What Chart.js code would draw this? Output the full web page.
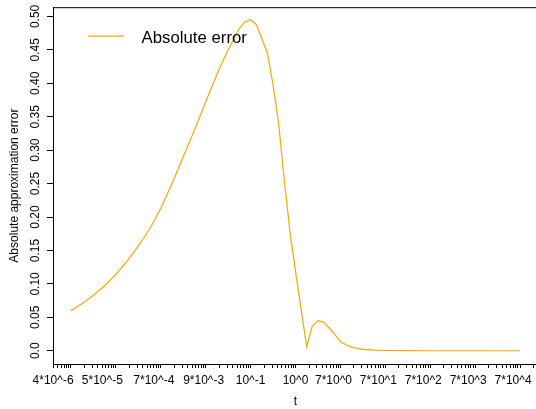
<!DOCTYPE html>
<html>
<head>
<meta charset="utf-8">
<script src="https://cdn.jsdelivr.net/npm/chart.js@4.4.1/dist/chart.umd.min.js"></script>
<style>
  html, body { margin: 0; padding: 0; background: #fff; overflow: hidden; }
  canvas { display: block; }
</style>
</head>
<body>
<canvas id="errChart" width="540" height="409"></canvas>
<script>
// ============================================
// Data
// ============================================
// log10(t) of each sample, and the absolute error there
const LOG_T = [
  -5, -4.75, -4.5, -4.25, -4, -3.75, -3.5, -3.375, -3.25, -3.125, -3, -2.875,
  -2.75, -2.625, -2.5, -2.375, -2.25, -2.125, -2,
  -1.875, -1.75, -1.625, -1.5, -1.375, -1.25, -1.125, -1, -0.875, -0.75, -0.625,
  -0.5, -0.375, -0.25, -0.125, 0, 0.125, 0.25, 0.375, 0.5, 0.625, 0.75, 0.875,
  1, 1.125, 1.25, 1.375, 1.5, 1.75, 2, 2.5, 3, 3.5, 4, 4.5, 5,
]
const ABS_ERR = [
  0.0597, 0.0705, 0.0829, 0.0973, 0.1143, 0.134, 0.157, 0.169, 0.182, 0.197, 0.213, 0.231,
  0.25, 0.27, 0.29, 0.31, 0.33, 0.351, 0.372,
  0.393, 0.413, 0.432, 0.45, 0.466, 0.482, 0.492, 0.495, 0.488, 0.467, 0.445,
  0.398, 0.34, 0.255, 0.179, 0.119, 0.062, 0.006, 0.037, 0.045, 0.0425, 0.034, 0.0245,
  0.0135, 0.009, 0.0055, 0.0035, 0.002, 0.0009, 0.0004, 0.0001, 0, 0, 0, 0, 0,
]

const X_TICKS = [4e-6, 5e-5, 7e-4, 9e-3, 1e-1, 1, 7, 70, 700, 7000, 70000]
const X_TICK_LABELS = [
  "4*10^-6", "5*10^-5", "7*10^-4", "9*10^-3", "10^-1", "10^0",
  "7*10^0", "7*10^1", "7*10^2", "7*10^3", "7*10^4",
]
const Y_TICKS = [0, 0.05, 0.1, 0.15, 0.2, 0.25, 0.3, 0.35, 0.4, 0.45, 0.5]
const Y_TICK_LABELS = ["0.0", "0.05", "0.10", "0.15", "0.20", "0.25", "0.30", "0.35", "0.40", "0.45", "0.50"]

const SERIES_LABEL = "Absolute error"
const X_TITLE = "t"
const Y_TITLE = "Absolute approximation error"

// ============================================
// Look
// ============================================
const FONT = "'Liberation Sans', Arial, Helvetica, sans-serif"
const ORANGE = "#FFA500"

// R pads each axis range by 4%
const X_MIN = Math.pow(10, -5.4)
const X_MAX = Math.pow(10, 5.4)
const Y_MIN = -0.0198
const Y_MAX = 0.5138

// every k*10^n inside the axis gets a tick mark, only some get a label
function xTickValues() {
  const out = []
  for (let n = -6; n <= 5; n++) {
    for (let k = 1; k <= 9; k++) {
      const v = k * Math.pow(10, n)
      if (v >= X_TICKS[0] * 0.999 && v <= X_MAX) out.push(v)
    }
  }
  return out
}

function xLabel(v) {
  const i = X_TICKS.findIndex((t) => Math.abs(Math.log10(t) - Math.log10(v)) < 1e-6)
  return i >= 0 ? X_TICK_LABELS[i] : ""
}

// top edge of the box + legend inside the plot
const boxAndLegend = {
  id: "boxAndLegend",
  afterDraw(chart) {
    const { ctx, chartArea } = chart
    const ds = chart.data.datasets[0]
    ctx.save()
    ctx.strokeStyle = "#000"
    ctx.lineWidth = 1
    ctx.beginPath()
    ctx.moveTo(chartArea.left, chartArea.top + 0.5)
    ctx.lineTo(chartArea.right, chartArea.top + 0.5)
    ctx.stroke()

    const lx = chartArea.left + 35
    const ly = chartArea.top + 29
    ctx.strokeStyle = ds.borderColor
    ctx.lineWidth = 1.2
    ctx.beginPath()
    ctx.moveTo(lx, ly)
    ctx.lineTo(lx + 36, ly)
    ctx.stroke()

    ctx.fillStyle = "#000"
    ctx.font = "16.8px " + FONT
    ctx.textAlign = "left"
    ctx.textBaseline = "alphabetic"
    ctx.fillText(ds.label, lx + 53.5, ly + 6.5)
    ctx.restore()
  },
}

// ============================================
// Chart
// ============================================
const ctx = document.getElementById("errChart").getContext("2d")
new Chart(ctx, {
  type: "line",
  data: {
    datasets: [
      {
        label: SERIES_LABEL,
        data: LOG_T.map((e, i) => ({ x: Math.pow(10, e), y: ABS_ERR[i] })),
        borderColor: ORANGE,
        borderWidth: 1.2,
        pointRadius: 0,
        tension: 0,
        fill: false,
      },
    ],
  },
  options: {
    responsive: false,
    animation: false,
    layout: { padding: { top: 7, right: 2, left: 0, bottom: 0 } },
    plugins: { legend: { display: false }, tooltip: { enabled: false } },
    scales: {
      x: {
        type: "logarithmic",
        min: X_MIN,
        max: X_MAX,
        bounds: "data",
        afterBuildTicks: (s) => {
          s.ticks = xTickValues().map((v) => ({ value: v }))
        },
        afterFit: (s) => {
          s.height = 45
        },
        grid: { drawOnChartArea: false, drawTicks: true, tickLength: 4, tickColor: "#000" },
        border: { display: true, color: "#000", width: 1 },
        ticks: {
          autoSkip: false,
          minRotation: 0,
          maxRotation: 0,
          padding: 5,
          color: "#000",
          font: { family: FONT, size: 12 },
          callback: (v) => xLabel(v),
        },
        title: {
          display: true,
          text: X_TITLE,
          color: "#000",
          font: { family: FONT, size: 12 },
          padding: { top: 0, bottom: 0 },
        },
      },
      y: {
        type: "linear",
        min: Y_MIN,
        max: Y_MAX,
        bounds: "data",
        afterBuildTicks: (s) => {
          s.ticks = Y_TICKS.map((v) => ({ value: v }))
        },
        afterFit: (s) => {
          s.width = 53
        },
        grid: { drawOnChartArea: false, drawTicks: true, tickLength: 6, tickColor: "#000" },
        border: { display: true, color: "#000", width: 1 },
        ticks: {
          minRotation: 90,
          maxRotation: 90,
          crossAlign: "center",
          padding: 0,
          color: "#000",
          font: { family: FONT, size: 12 },
          callback: (v, i) => Y_TICK_LABELS[i],
        },
        title: {
          display: true,
          text: Y_TITLE,
          color: "#000",
          font: { family: FONT, size: 12 },
          padding: { top: 7.5, bottom: 0 },
        },
      },
    },
  },
  plugins: [boxAndLegend],
})
</script>
</body>
</html>
